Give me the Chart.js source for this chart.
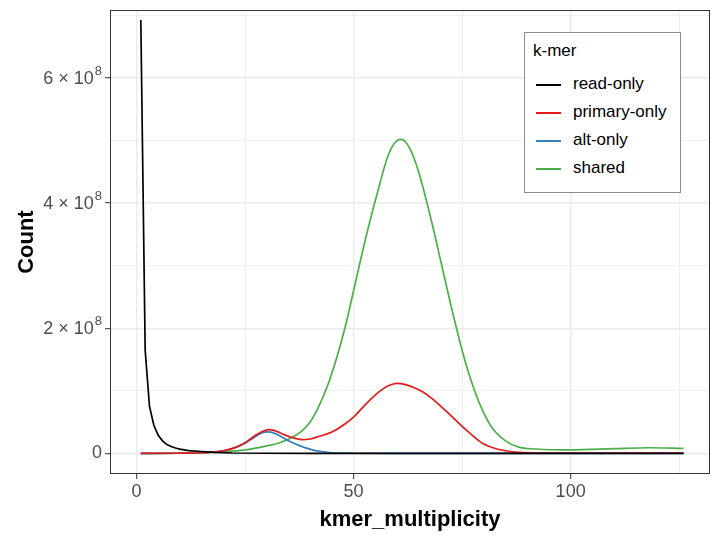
<!DOCTYPE html>
<html>
<head>
<meta charset="utf-8">
<script src="https://cdn.jsdelivr.net/npm/chart.js@4.4.1/dist/chart.umd.min.js"></script>
<style>
  body { margin: 0; background: #fff; }
  #wrap { position: relative; width: 719px; height: 539px; }
  #legend {
    position: absolute; left: 524px; top: 32px; width: 155px; height: 159px;
    border: 1px solid #8c8c8c; background: #fff;
    font-family: "Liberation Sans", Arial, sans-serif; color: #000;
  }
  #legend .title { position: absolute; left: 8px; top: 8px; font-size: 17px; }
  #legend .item { position: absolute; left: 11px; height: 20px; font-size: 17px; }
  #legend .key { position: absolute; left: 0; top: 10px; width: 25px; height: 2px; }
  #legend .lab { position: absolute; left: 37px; top: 0; white-space: nowrap; line-height: 20px; }
</style>
</head>
<body>
<div id="wrap">
  <canvas id="kmerChart" width="719" height="539"></canvas>
  <div id="legend"></div>
</div>
<script>
const seriesNames = ["read-only", "primary-only", "alt-only", "shared"];
const seriesColors = ["#000000", "#E41A1C", "#377EB8", "#4DAF4A"];

// read-only
const readX = [1, 2, 3, 4, 5, 6, 7, 8, 9, 10, 12, 15, 18, 22, 30, 40, 60, 126];
const readY = [6.93e8, 1.65e8, 0.75e8, 0.45e8, 0.29e8, 0.2e8, 0.14e8, 0.11e8, 0.085e8, 0.068e8,
  0.045e8, 0.03e8, 0.015e8, 0.006e8, 0.002e8, 0.001e8, 0, 0];

// primary-only
const primX = [1, 10, 15, 20, 23, 25, 27, 29, 30.5, 32, 34, 36, 38, 40, 42, 45, 48, 50, 53, 56, 58, 60,
  62, 64, 66, 68, 70, 72, 74, 76, 78, 80, 83, 86, 90, 100, 126];
const primY = [0, 0.002e8, 0.01e8, 0.04e8, 0.1e8, 0.17e8, 0.27e8, 0.35e8, 0.38e8, 0.36e8, 0.3e8, 0.25e8,
  0.22e8, 0.23e8, 0.27e8, 0.34e8, 0.47e8, 0.58e8, 0.8e8, 0.99e8, 1.08e8, 1.12e8, 1.1e8, 1.05e8, 0.98e8,
  0.88e8, 0.76e8, 0.63e8, 0.5e8, 0.37e8, 0.25e8, 0.15e8, 0.07e8, 0.03e8, 0.01e8, 0.005e8, 0.005e8];

// alt-only
const altX = [1, 10, 15, 17, 20, 23, 25, 27, 29, 30, 31, 33, 35, 37.7, 41.5, 45, 50, 60, 126];
const altY = [0, 0.002e8, 0.01e8, 0.02e8, 0.04e8, 0.1e8, 0.16e8, 0.25e8, 0.33e8, 0.345e8, 0.34e8,
  0.28e8, 0.2e8, 0.12e8, 0.04e8, 0.01e8, 0.002e8, 0, 0];

// shared
const sharedX = [1, 10, 15, 20, 25, 30, 33, 36, 38, 40, 42, 44, 46, 48, 50, 53, 56, 58, 60, 61, 63, 65,
  68, 70, 73, 76, 79, 82, 85, 88, 92, 100, 110, 118, 126];
const sharedY = [0, 0.003e8, 0.01e8, 0.025e8, 0.055e8, 0.12e8, 0.17e8, 0.26e8, 0.35e8, 0.5e8, 0.75e8,
  1.08e8, 1.5e8, 2.0e8, 2.6e8, 3.5e8, 4.3e8, 4.77e8, 5.0e8, 5.02e8, 4.87e8, 4.5e8, 3.7e8, 3.1e8, 2.2e8,
  1.4e8, 0.8e8, 0.4e8, 0.2e8, 0.1e8, 0.07e8, 0.055e8, 0.075e8, 0.09e8, 0.08e8];

const xTicks = [0, 25, 50, 75, 100, 125];
const yTicks = [0, 1e8, 2e8, 3e8, 4e8, 5e8, 6e8, 7e8];

const xs = [readX, primX, altX, sharedX];
const ys = [readY, primY, altY, sharedY];

function toPoints(xArr, yArr) {
  return xArr.map((x, i) => ({ x: x, y: yArr[i] }));
}

function isMajorX(v) { return v % 50 === 0; }
function isMajorY(v) { return v % 2e8 === 0; }

const fontFamily = '"Liberation Sans", Arial, sans-serif';

// draws the panel frame and the "a × 10^8" tick labels with a raised exponent
const panelExtras = {
  id: "panelExtras",
  afterDraw(chart) {
    const a = chart.chartArea;
    const c = chart.ctx;
    c.save();
    c.strokeStyle = "#333333";
    c.lineWidth = 1;
    c.strokeRect(Math.round(a.left) + 0.5, Math.round(a.top) + 0.5,
      Math.round(a.right - a.left) - 1, Math.round(a.bottom - a.top) - 1);

    const yScale = chart.scales.y;
    const right = a.left - 8;
    c.fillStyle = "#4D4D4D";
    c.textAlign = "right";
    yTicks.filter(isMajorY).forEach((v) => {
      const py = yScale.getPixelForValue(v);
      if (v === 0) {
        c.font = `18px ${fontFamily}`;
        c.textBaseline = "middle";
        c.fillText("0", right, py);
        return;
      }
      c.font = `13px ${fontFamily}`;
      c.textBaseline = "alphabetic";
      const expW = c.measureText("8").width;
      c.fillText("8", right, py - 3);
      c.font = `18px ${fontFamily}`;
      c.textBaseline = "middle";
      c.fillText(`${v / 1e8} × 10`, right - expW - 1, py + 1);
    });
    c.restore();
  },
};

Chart.defaults.font.family = fontFamily;

new Chart(document.getElementById("kmerChart"), {
  type: "line",
  data: {
    datasets: seriesNames.map((name, i) => ({
      label: name,
      data: toPoints(xs[i], ys[i]),
      borderColor: seriesColors[i],
      borderWidth: 1.7,
      pointRadius: 0,
      fill: false,
      cubicInterpolationMode: i === 0 ? "default" : "monotone",
      tension: 0,
    })),
  },
  plugins: [panelExtras],
  options: {
    responsive: false,
    animation: false,
    devicePixelRatio: 1,
    layout: { padding: { top: 9, right: 9, left: 0, bottom: 0 } },
    plugins: {
      legend: { display: false },
      tooltip: { enabled: false },
    },
    scales: {
      x: {
        type: "linear",
        min: -6.1,
        max: 132.1,
        afterBuildTicks(scale) {
          scale.ticks = xTicks.map((v) => ({ value: v }));
        },
        afterFit(scale) {
          scale.height = 65;
        },
        ticks: {
          color: "#4D4D4D",
          font: { size: 18 },
          padding: 2,
          maxRotation: 0,
          autoSkip: false,
          callback(value) {
            return isMajorX(value) ? String(value) : "";
          },
        },
        grid: {
          color: "#EBEBEB",
          lineWidth: (c) => (c.tick && isMajorX(c.tick.value) ? 1.4 : 0.8),
          tickColor: (c) => (c.tick && isMajorX(c.tick.value) ? "#333333" : "rgba(0,0,0,0)"),
          tickLength: 5,
          tickWidth: 1,
        },
        border: { display: false },
        title: {
          display: true,
          text: "kmer_multiplicity",
          color: "#000",
          font: { size: 22, weight: "bold" },
          padding: { top: 0, bottom: 6 },
        },
      },
      y: {
        type: "linear",
        min: -0.33e8,
        max: 7.086e8,
        afterBuildTicks(scale) {
          scale.ticks = yTicks.map((v) => ({ value: v }));
        },
        afterFit(scale) {
          scale.width = 110;
        },
        ticks: {
          autoSkip: false,
          callback() {
            return "";
          },
        },
        grid: {
          color: "#EBEBEB",
          lineWidth: (c) => (c.tick && isMajorY(c.tick.value) ? 1.4 : 0.8),
          tickColor: (c) => (c.tick && isMajorY(c.tick.value) ? "#333333" : "rgba(0,0,0,0)"),
          tickLength: 5,
          tickWidth: 1,
        },
        border: { display: false },
        title: {
          display: true,
          text: "Count",
          color: "#000",
          font: { size: 22, weight: "bold" },
          padding: { top: 14, bottom: 0 },
        },
      },
    },
  },
});

// legend box inside the panel
const legend = document.getElementById("legend");
legend.innerHTML = `<div class="title">k-mer</div>`;
seriesNames.forEach((name, i) => {
  const item = document.createElement("div");
  item.className = "item";
  item.style.top = `${41 + i * 28}px`;
  item.innerHTML = `<div class="key" style="background:${seriesColors[i]}"></div><div class="lab">${name}</div>`;
  legend.append(item);
});
</script>
</body>
</html>
